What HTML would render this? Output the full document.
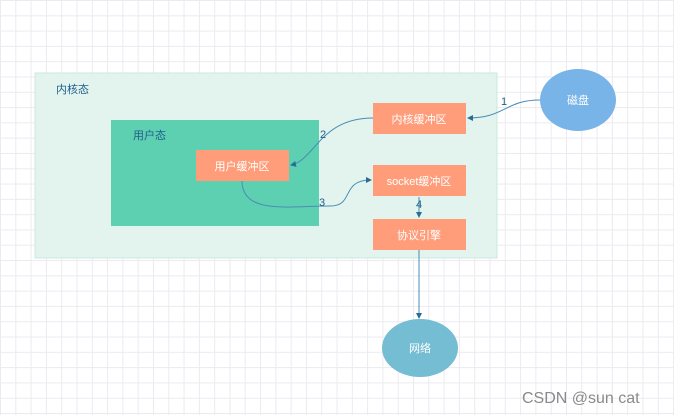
<!DOCTYPE html>
<html><head><meta charset="utf-8"><style>
body{margin:0;width:674px;height:415px;overflow:hidden;background:#fff;
background-image:linear-gradient(#eceaf0 1px,transparent 1px),linear-gradient(90deg,#eceaf0 1px,transparent 1px);background-size:15.3px 15.3px;}
svg{position:absolute;left:0;top:0}
text{font-family:"Liberation Sans","Noto Sans CJK SC",sans-serif;}
</style></head><body>
<svg width="674" height="415" viewBox="0 0 674 415">
<defs><marker id="a" markerWidth="6" markerHeight="6" refX="5" refY="3" orient="auto"><path d="M0,0L6,3L0,6z" fill="#2a6d94"/></marker></defs>
<rect x="35" y="73" width="462" height="185" fill="#e3f4ef" stroke="#c8e8de"/>
<text x="56" y="93" font-size="11" fill="#1f5f8a">内核态</text>
<rect x="111" y="120" width="208" height="106" fill="#5ed0b2"/>
<text x="133" y="139" font-size="11" fill="#1f5f8a">用户态</text>
<g fill="#ff9d7a">
<rect x="373" y="103" width="93" height="31"/>
<rect x="196" y="150" width="93" height="31"/>
<rect x="373" y="165" width="93" height="31"/>
<rect x="373" y="219" width="93" height="31"/>
</g>
<g font-size="11" fill="#fff" text-anchor="middle">
<text x="419" y="123">内核缓冲区</text>
<text x="242" y="170">用户缓冲区</text>
<text x="419" y="185">socket缓冲区</text>
<text x="419" y="239">协议引擎</text>
</g>
<ellipse cx="578" cy="100" rx="38" ry="31" fill="#78b4e8"/>
<text x="578" y="104" font-size="11" fill="#fff" text-anchor="middle">磁盘</text>
<ellipse cx="420" cy="348" rx="38" ry="29" fill="#74bdd3"/>
<text x="420" y="352" font-size="11" fill="#fff" text-anchor="middle">网络</text>
<g fill="none" stroke="#4a8db5" stroke-width="1">
<path d="M540,100 C505,100 505,118 468,118" marker-end="url(#a)"/>
<path d="M373,118 C320,118 315,160 291,165" marker-end="url(#a)"/>
<path d="M242,181 C242,215 290,206 330,206 C355,206 340,180 371,180" marker-end="url(#a)"/>
<path d="M419,197 L419,217" marker-end="url(#a)"/>
<path d="M419,250 L419,318" marker-end="url(#a)"/>
</g>
<g font-size="11" fill="#1f5f8a">
<text x="501" y="105">1</text>
<text x="320" y="138">2</text>
<text x="319" y="206">3</text>
<text x="416" y="208">4</text>
</g>
<text x="522" y="403" font-size="16" fill="#8a8a8a">CSDN @sun cat</text>
</svg>
</body></html>
